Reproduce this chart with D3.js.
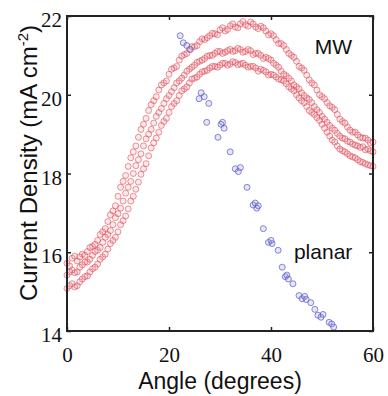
<!DOCTYPE html>
<html>
<head>
<meta charset="utf-8">
<script src="https://cdn.jsdelivr.net/npm/d3@7"></script>
<style>
    body { margin: 0; background: #fff; }
    .tick-label { font-family: "Liberation Serif", "Times New Roman", serif; font-size: 21px; fill: #111; }
    .axis-title { font-family: "Liberation Sans", Arial, sans-serif; font-size: 23px; fill: #111; }
    .note { font-family: "Liberation Sans", Arial, sans-serif; font-size: 21px; fill: #111; }
</style>
</head>
<body>
<div id="chart"></div>
<script>
// Angle (degrees) for the MW scans, whole and half degrees
const mwAngles = [0, 1, 2, 3, 4, 5, 6, 7, 8, 9, 10, 11, 12, 13, 14, 15, 16, 17, 18, 19, 20,
    21, 22, 23, 24, 25, 26, 27, 28, 29, 30, 31, 32, 33, 34, 35, 36, 37, 38, 39, 40,
    41, 42, 43, 44, 45, 46, 47, 48, 49, 50, 51, 52, 53, 54, 55, 56, 57, 58, 59, 60]
const mwHalfAngles = [0.5, 1.5, 2.5, 3.5, 4.5, 5.5, 6.5, 7.5, 8.5, 9.5,
    10.5, 11.5, 12.5, 13.5, 14.5, 15.5, 16.5, 17.5, 18.5, 19.5,
    20.5, 21.5, 22.5, 23.5, 24.5, 25.5, 26.5, 27.5, 28.5, 29.5,
    30.5, 31.5, 32.5, 33.5, 34.5, 35.5, 36.5, 37.5, 38.5, 39.5,
    40.5, 41.5, 42.5, 43.5, 44.5, 45.5, 46.5, 47.5, 48.5, 49.5,
    50.5, 51.5, 52.5, 53.5, 54.5, 55.5, 56.5, 57.5, 58.5, 59.5]

// Current density (mA cm-2), MW scans read at whole degrees
const mwScanA = [15.72, 15.85, 15.78, 15.95, 16.02, 16.15, 16.3, 16.52, 16.78, 17.05, 17.42,
    17.8, 18.18, 18.55, 18.92, 19.25, 19.6, 19.85, 20.12, 20.3, 20.52,
    20.68, 20.88, 21.02, 21.15, 21.22, 21.35, 21.4, 21.5, 21.55, 21.65,
    21.62, 21.75, 21.72, 21.8, 21.78, 21.85, 21.72, 21.74, 21.62, 21.55,
    21.4, 21.3, 21.15, 21.0, 20.85, 20.68, 20.5, 20.3, 20.12, 19.95,
    19.8, 19.68, 19.5, 19.32, 19.18, 19.05, 18.98, 18.9, 18.85, 18.8]
const mwScanB = [15.42, 15.55, 15.5, 15.68, 15.75, 15.92, 16.05, 16.25, 16.45, 16.7, 16.98,
    17.3, 17.65, 18.0, 18.35, 18.7, 19.0, 19.28, 19.55, 19.78, 19.98,
    20.18, 20.35, 20.5, 20.65, 20.75, 20.85, 20.92, 21.0, 21.05, 21.1,
    21.08, 21.15, 21.12, 21.15, 21.1, 21.12, 21.05, 21.0, 20.95, 20.88,
    20.75, 20.6, 20.48, 20.35, 20.2, 20.05, 19.92, 19.8, 19.62, 19.45,
    19.3, 19.15, 19.02, 18.9, 18.82, 18.75, 18.7, 18.68, 18.62, 18.55]
const mwScanC = [15.08, 15.2, 15.15, 15.32, 15.4, 15.58, 15.7, 15.88, 16.08, 16.3, 16.52,
    16.8, 17.1, 17.42, 17.78, 18.12, 18.45, 18.78, 19.05, 19.32, 19.55,
    19.78, 19.98, 20.15, 20.3, 20.42, 20.52, 20.6, 20.68, 20.72, 20.75,
    20.8, 20.78, 20.82, 20.78, 20.75, 20.72, 20.68, 20.65, 20.58, 20.52,
    20.45, 20.38, 20.28, 20.15, 20.0, 19.85, 19.7, 19.55, 19.42, 19.25,
    19.05, 18.85, 18.7, 18.58, 18.5, 18.42, 18.35, 18.28, 18.22, 18.18]

// Same scans read at half degrees
const mwScanA2 = [15.65, 15.9, 15.88, 15.92, 16.12, 16.2, 16.45, 16.6, 16.95, 17.18,
    17.65, 17.95, 18.4, 18.7, 19.12, 19.4, 19.75, 19.95, 20.25, 20.35,
    20.65, 20.72, 20.98, 21.05, 21.22, 21.25, 21.42, 21.45, 21.56, 21.52,
    21.7, 21.66, 21.8, 21.7, 21.86, 21.74, 21.8, 21.68, 21.7, 21.52,
    21.5, 21.3, 21.25, 21.05, 20.95, 20.72, 20.62, 20.38, 20.25, 20.0,
    19.9, 19.72, 19.62, 19.38, 19.28, 19.1, 19.05, 18.92, 18.9, 18.78]
const mwScanB2 = [15.5, 15.48, 15.62, 15.75, 15.82, 16.02, 16.12, 16.38, 16.55, 16.88,
    17.12, 17.5, 17.8, 18.2, 18.5, 18.88, 19.12, 19.45, 19.65, 19.9,
    20.08, 20.3, 20.42, 20.6, 20.7, 20.82, 20.88, 20.98, 21.0, 21.1,
    21.05, 21.12, 21.1, 21.18, 21.08, 21.15, 21.02, 21.05, 20.92, 20.92,
    20.8, 20.7, 20.52, 20.42, 20.25, 20.15, 19.98, 19.88, 19.7, 19.55,
    19.38, 19.22, 19.1, 18.95, 18.88, 18.8, 18.72, 18.66, 18.6, 18.58]
const mwScanC2 = [15.15, 15.12, 15.25, 15.38, 15.5, 15.62, 15.82, 15.95, 16.22, 16.38,
    16.7, 16.92, 17.3, 17.6, 17.98, 18.25, 18.65, 18.9, 19.22, 19.4,
    19.7, 19.85, 20.1, 20.2, 20.4, 20.45, 20.58, 20.62, 20.72, 20.7,
    20.8, 20.75, 20.84, 20.76, 20.8, 20.7, 20.72, 20.6, 20.62, 20.5,
    20.5, 20.4, 20.35, 20.2, 20.1, 19.92, 19.8, 19.6, 19.5, 19.35,
    19.15, 18.95, 18.8, 18.62, 18.55, 18.45, 18.4, 18.3, 18.25, 18.2]

// Planar sample
const planarAngles = [22.2, 22.8, 23.5, 24.2, 26.3, 26.9, 25.9, 27.8, 27.4, 30.2, 30.8, 30.5,
    29.6, 32.0, 33.0, 33.6, 34.0, 35.3, 36.5, 37.2, 36.9, 37.5, 38.5, 39.5, 40.2, 40.0,
    41.4, 42.2, 42.8, 43.4, 43.1, 44.3, 45.5, 46.1, 46.6, 46.9, 47.8, 48.6, 49.2, 49.8,
    50.2, 51.4, 51.9, 52.3]
const planarDensity = [21.5, 21.32, 21.25, 21.15, 20.05, 19.95, 19.9, 19.78, 19.3, 19.25, 19.15, 19.3,
    18.92, 18.55, 18.12, 18.05, 18.15, 17.65, 17.2, 17.12, 17.25, 17.18, 16.6, 16.25, 16.22, 16.3,
    16.05, 15.62, 15.38, 15.32, 15.42, 15.2, 14.9, 14.82, 14.88, 14.8, 14.72, 14.55, 14.4, 14.35,
    14.42, 14.22, 14.18, 14.1]

const xTicks = [0, 20, 40, 60]
const yTicks = [14, 16, 18, 20, 22]

class ScatterChart {
    constructor(_config) {
        this.config = {
            parentElement: _config.parentElement,
            containerWidth: _config.containerWidth,
            containerHeight: _config.containerHeight,
            margin: {top: 16, right: 15, bottom: 65, left: 67},
            radius: 3
        }
        this.initVis()
    }

    initVis() {
        let vis = this

        vis.width = vis.config.containerWidth - vis.config.margin.left - vis.config.margin.right
        vis.height = vis.config.containerHeight - vis.config.margin.top - vis.config.margin.bottom

        vis.svg = d3.select(vis.config.parentElement)
            .append('svg')
            .attr('width', vis.config.containerWidth)
            .attr('height', vis.config.containerHeight)

        vis.chart = vis.svg.append('g')
            .attr('transform', `translate(${vis.config.margin.left}, ${vis.config.margin.top})`)

        vis.xScale = d3.scaleLinear().domain([0, 60]).range([0, vis.width])
        vis.yScale = d3.scaleLinear().domain([14, 22]).range([vis.height, 0])

        vis.renderVis()
        vis.renderAxes()
    }

    renderVis() {
        let vis = this

        const mwPoints = []
        ;[mwScanA, mwScanB, mwScanC].forEach(scan => {
            scan.forEach((v, i) => mwPoints.push({angle: mwAngles[i], value: v}))
        })
        ;[mwScanA2, mwScanB2, mwScanC2].forEach(scan => {
            scan.forEach((v, i) => mwPoints.push({angle: mwHalfAngles[i], value: v}))
        })
        const planarPoints = planarAngles.map((a, i) => ({angle: a, value: planarDensity[i]}))

        vis.chart.selectAll('.mw')
            .data(mwPoints)
            .join('circle')
            .attr('class', 'mw')
            .attr('cx', d => vis.xScale(d.angle))
            .attr('cy', d => vis.yScale(d.value))
            .attr('r', vis.config.radius)
            .attr('fill', 'rgba(245, 140, 150, 0.2)')
            .attr('stroke', '#d8404c')
            .attr('stroke-opacity', 0.55)
            .attr('stroke-width', 1)

        vis.chart.selectAll('.planar')
            .data(planarPoints)
            .join('circle')
            .attr('class', 'planar')
            .attr('cx', d => vis.xScale(d.angle))
            .attr('cy', d => vis.yScale(d.value))
            .attr('r', vis.config.radius)
            .attr('fill', 'rgba(150, 150, 230, 0.25)')
            .attr('stroke', '#5a5ac0')
            .attr('stroke-opacity', 0.7)
            .attr('stroke-width', 1)

        vis.chart.append('text')
            .attr('class', 'note')
            .attr('x', vis.xScale(48.6))
            .attr('y', vis.yScale(21.04))
            .text('MW')

        vis.chart.append('text')
            .attr('class', 'note')
            .attr('x', vis.xScale(44.5))
            .attr('y', vis.yScale(15.82))
            .text('planar')
    }

    renderAxes() {
        let vis = this

        // Inward ticks on all four sides, labels only on left and bottom
        const xAxis = d3.axisBottom(vis.xScale).tickValues(xTicks).tickSizeInner(-4).tickSizeOuter(0).tickPadding(16)
        const yAxis = d3.axisLeft(vis.yScale).tickValues(yTicks).tickSizeInner(-4).tickSizeOuter(0).tickPadding(5)
        const xTop = d3.axisTop(vis.xScale).tickValues(xTicks).tickSizeInner(-4).tickSizeOuter(0).tickFormat('')
        const yRight = d3.axisRight(vis.yScale).tickValues(yTicks).tickSizeInner(-4).tickSizeOuter(0).tickFormat('')

        const gx = vis.chart.append('g').attr('transform', `translate(0, ${vis.height})`).call(xAxis)
        const gy = vis.chart.append('g').call(yAxis)
        const gt = vis.chart.append('g').call(xTop)
        const gr = vis.chart.append('g').attr('transform', `translate(${vis.width}, 0)`).call(yRight)

        ;[gx, gy, gt, gr].forEach(g => {
            g.select('.domain').remove()
            g.selectAll('.tick line').attr('stroke', '#222').attr('stroke-width', 1.5)
        })
        gx.selectAll('.tick text').attr('class', 'tick-label').attr('fill', null)
        gy.selectAll('.tick text').attr('class', 'tick-label').attr('fill', null).attr('dy', '0.5em')

        vis.chart.append('rect')
            .attr('width', vis.width)
            .attr('height', vis.height)
            .attr('fill', 'none')
            .attr('stroke', '#222')
            .attr('stroke-width', 2)

        vis.svg.append('text')
            .attr('class', 'axis-title')
            .attr('x', 220)
            .attr('y', 389)
            .attr('text-anchor', 'middle')
            .text('Angle (degrees)')

        const yTitle = vis.svg.append('text')
            .attr('class', 'axis-title')
            .attr('font-size', '24px')
            .style('font-size', '24px')
            .attr('transform', 'translate(37, 163) rotate(-90)')
            .attr('text-anchor', 'middle')
        yTitle.append('tspan').text('Current Density (mA cm')
        yTitle.append('tspan').style('font-size', '15px').attr('dy', -9).text('-2')
        yTitle.append('tspan').attr('dy', 9).text(')')
    }
}

new ScatterChart({parentElement: '#chart', containerWidth: 388, containerHeight: 396})
</script>
</body>
</html>
